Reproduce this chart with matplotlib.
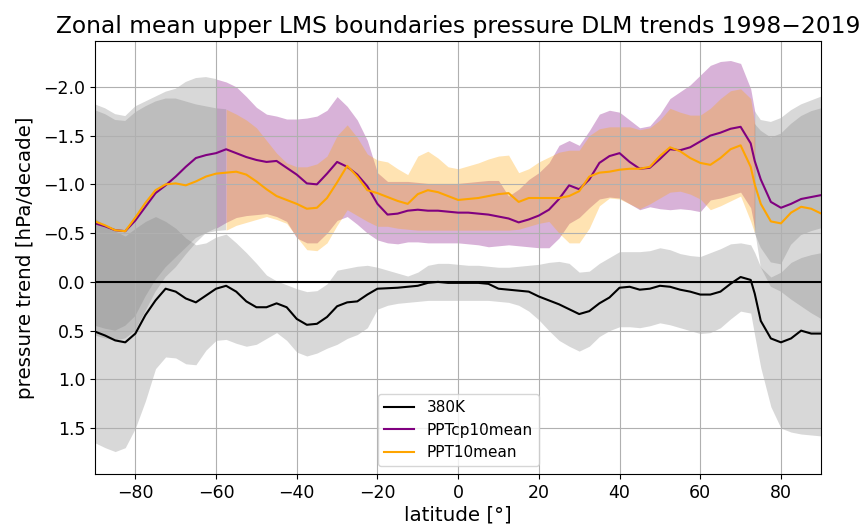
import numpy as np
import matplotlib
matplotlib.use('Agg')
import matplotlib.pyplot as plt

# latitude grid of the digitised zonal means
lat = np.r_[np.arange(-90, 73, 2.5), 73.5, np.arange(75, 90.1, 2.5)]

# 380K trend and its spread
trend_380k = [0.51, 0.55, 0.60, 0.62, 0.53, 0.34, 0.19, 0.07, 0.10, 0.17,
              0.21, 0.14, 0.07, 0.04, 0.10, 0.20, 0.26, 0.26, 0.22, 0.26,
              0.38, 0.44, 0.43, 0.36, 0.25, 0.21, 0.20, 0.13, 0.07, 0.065,
              0.06, 0.05, 0.04, 0.01, 0.00, 0.01, 0.01, 0.01, 0.01, 0.02,
              0.07, 0.08, 0.09, 0.10, 0.15, 0.19, 0.23, 0.28, 0.33, 0.30,
              0.22, 0.16, 0.06, 0.05, 0.08, 0.07, 0.04, 0.05, 0.08, 0.10,
              0.13, 0.13, 0.10, 0.02, -0.05, -0.02, 0.12, 0.40, 0.58, 0.62,
              0.58, 0.50, 0.53, 0.53]
low_380k = [1.65, 1.70, 1.74, 1.70, 1.50, 1.22, 0.89, 0.77, 0.78, 0.84,
            0.85, 0.70, 0.60, 0.59, 0.63, 0.66, 0.64, 0.58, 0.52, 0.60,
            0.72, 0.76, 0.73, 0.68, 0.64, 0.58, 0.54, 0.47, 0.28, 0.24,
            0.22, 0.21, 0.20, 0.19, 0.19, 0.19, 0.19, 0.19, 0.19, 0.19,
            0.20, 0.21, 0.24, 0.30, 0.39, 0.50, 0.60, 0.66, 0.71, 0.66,
            0.56, 0.50, 0.46, 0.46, 0.47, 0.45, 0.42, 0.44, 0.47, 0.50,
            0.53, 0.52, 0.47, 0.38, 0.30, 0.32, 0.55, 0.88, 1.28, 1.50,
            1.54, 1.56, 1.57, 1.58]
high_380k = [-0.65, -0.58, -0.52, -0.47, -0.55, -0.62, -0.67, -0.62, -0.55, -0.45,
             -0.38, -0.40, -0.46, -0.49, -0.40, -0.30, -0.19, -0.07, -0.01, 0.03,
             0.07, 0.10, 0.09, 0.02, -0.12, -0.14, -0.16, -0.17, -0.15, -0.12,
             -0.09, -0.06, -0.10, -0.17, -0.19, -0.19, -0.18, -0.17, -0.17, -0.16,
             -0.15, -0.15, -0.16, -0.17, -0.18, -0.20, -0.21, -0.19, -0.10, -0.11,
             -0.19, -0.25, -0.31, -0.31, -0.31, -0.32, -0.35, -0.33, -0.29, -0.27,
             -0.26, -0.30, -0.34, -0.39, -0.40, -0.38, -0.30, -0.15, -0.05, -0.10,
             -0.20, -0.25, -0.28, -0.30]

# PPTcp10mean
trend_cp = [-0.60, -0.57, -0.53, -0.52, -0.63, -0.77, -0.91, -0.99, -1.08, -1.18,
            -1.27, -1.30, -1.32, -1.36, -1.32, -1.28, -1.25, -1.23, -1.24, -1.17,
            -1.10, -1.01, -1.00, -1.11, -1.23, -1.18, -1.10, -0.98, -0.80, -0.69,
            -0.70, -0.73, -0.74, -0.73, -0.73, -0.72, -0.71, -0.71, -0.70, -0.69,
            -0.67, -0.65, -0.61, -0.64, -0.68, -0.74, -0.85, -0.99, -0.95, -1.05,
            -1.22, -1.29, -1.32, -1.23, -1.16, -1.17, -1.26, -1.36, -1.35, -1.38,
            -1.44, -1.50, -1.53, -1.57, -1.59, -1.42, -1.24, -1.05, -0.82, -0.76,
            -0.80, -0.85, -0.87, -0.89]
high_cp = [-1.82, -1.78, -1.72, -1.70, -1.80, -1.85, -1.90, -1.95, -1.98, -2.05,
           -2.09, -2.10, -2.08, -2.05, -2.00, -1.90, -1.79, -1.72, -1.70, -1.67,
           -1.67, -1.68, -1.70, -1.76, -1.90, -1.80, -1.66, -1.45, -1.12, -1.03,
           -1.03, -1.03, -1.02, -1.01, -1.01, -1.01, -1.01, -1.02, -1.03, -1.04,
           -1.04, -0.88, -0.95, -1.05, -1.12, -1.22, -1.40, -1.45, -1.40, -1.55,
           -1.72, -1.76, -1.74, -1.66, -1.58, -1.60, -1.72, -1.88, -1.95, -2.02,
           -2.12, -2.22, -2.26, -2.27, -2.24, -1.98, -1.75, -1.66, -1.64, -1.68,
           -1.76, -1.82, -1.86, -1.90]
low_cp = [0.55, 0.58, 0.60, 0.58, 0.50, 0.30, 0.10, -0.05, -0.15, -0.28,
          -0.40, -0.50, -0.55, -0.61, -0.66, -0.68, -0.69, -0.70, -0.67, -0.62,
          -0.45, -0.40, -0.40, -0.50, -0.63, -0.67, -0.59, -0.50, -0.43, -0.40,
          -0.39, -0.41, -0.41, -0.40, -0.40, -0.40, -0.40, -0.39, -0.38, -0.36,
          -0.37, -0.38, -0.37, -0.36, -0.35, -0.35, -0.45, -0.60, -0.66, -0.76,
          -0.85, -0.87, -0.86, -0.80, -0.74, -0.77, -0.75, -0.74, -0.75, -0.74,
          -0.72, -0.84, -0.86, -0.89, -0.92, -0.76, -0.55, -0.15, 0.05, 0.10,
          0.18, 0.25, 0.32, 0.38]

# PPT10mean
trend_ppt = [-0.62, -0.58, -0.53, -0.52, -0.66, -0.81, -0.94, -1.00, -1.01, -0.99,
             -1.03, -1.08, -1.11, -1.12, -1.13, -1.10, -1.03, -0.95, -0.88, -0.84,
             -0.80, -0.75, -0.76, -0.86, -1.02, -1.19, -1.08, -0.94, -0.91, -0.87,
             -0.83, -0.80, -0.90, -0.94, -0.92, -0.88, -0.84, -0.85, -0.86, -0.88,
             -0.90, -0.91, -0.82, -0.86, -0.86, -0.86, -0.86, -0.88, -0.93, -1.08,
             -1.12, -1.13, -1.15, -1.16, -1.16, -1.18, -1.29, -1.38, -1.34, -1.27,
             -1.22, -1.20, -1.27, -1.36, -1.40, -1.18, -1.00, -0.80, -0.62, -0.60,
             -0.71, -0.77, -0.75, -0.70]
high_ppt = [-1.76, -1.72, -1.66, -1.65, -1.74, -1.80, -1.85, -1.88, -1.88, -1.85,
            -1.82, -1.80, -1.78, -1.77, -1.72, -1.66, -1.58, -1.45, -1.32, -1.22,
            -1.18, -1.18, -1.21, -1.29, -1.50, -1.61, -1.48, -1.31, -1.25, -1.23,
            -1.16, -1.10, -1.29, -1.34, -1.27, -1.18, -1.16, -1.19, -1.22, -1.26,
            -1.29, -1.30, -1.12, -1.16, -1.23, -1.28, -1.33, -1.35, -1.35, -1.50,
            -1.57, -1.59, -1.59, -1.59, -1.56, -1.58, -1.66, -1.78, -1.74, -1.71,
            -1.71, -1.78, -1.88, -1.96, -1.98, -1.88, -1.62, -1.55, -1.48, -1.52,
            -1.62, -1.70, -1.75, -1.78]
low_ppt = [0.45, 0.48, 0.50, 0.45, 0.35, 0.15, -0.02, -0.15, -0.25, -0.35,
           -0.45, -0.50, -0.52, -0.53, -0.58, -0.61, -0.64, -0.67, -0.64, -0.60,
           -0.46, -0.33, -0.32, -0.40, -0.58, -0.74, -0.68, -0.62, -0.57, -0.57,
           -0.55, -0.54, -0.53, -0.53, -0.53, -0.53, -0.53, -0.53, -0.53, -0.53,
           -0.53, -0.53, -0.54, -0.57, -0.60, -0.62, -0.50, -0.40, -0.40, -0.55,
           -0.78, -0.86, -0.85, -0.80, -0.75, -0.80, -0.86, -0.92, -0.93, -0.90,
           -0.85, -0.74, -0.78, -0.83, -0.88, -0.62, -0.50, -0.35, -0.20, -0.18,
           -0.38, -0.48, -0.52, -0.55]

# polar parts of the tropopause bands are shown in grey
cp_mid = (lat >= -60) & (lat <= 73.5)
cp_pol = ~((lat > -60) & (lat < 73.5))
ppt_mid = (lat >= -57.5) & (lat <= 73.5)
ppt_pol = ~((lat > -57.5) & (lat < 73.5))

fig = plt.figure(figsize=(8.63, 5.25), dpi=100)
ax = fig.add_axes([95 / 863, 51 / 525, 726.3 / 863, 433 / 525])

ax.fill_between(lat, high_380k, low_380k, color='grey', alpha=0.3, linewidth=0)
ax.fill_between(lat, high_cp, low_cp, where=cp_mid, color='purple', alpha=0.3, linewidth=0)
ax.fill_between(lat, high_cp, low_cp, where=cp_pol, color='grey', alpha=0.3, linewidth=0)
ax.fill_between(lat, high_ppt, low_ppt, where=ppt_mid, color='orange', alpha=0.3, linewidth=0)
ax.fill_between(lat, high_ppt, low_ppt, where=ppt_pol, color='grey', alpha=0.3, linewidth=0)

ax.axhline(0, color='k', linewidth=1.5)
ax.plot(lat, trend_380k, color='k', linewidth=1.5, label='380K')
ax.plot(lat, trend_cp, color='purple', linewidth=1.5, label='PPTcp10mean')
ax.plot(lat, trend_ppt, color='orange', linewidth=1.5, label='PPT10mean')

ax.set_xlim(-90, 90)
ax.set_ylim(1.97, -2.47)
ax.set_yticks([-2.0, -1.5, -1.0, -0.5, 0.0, 0.5, 1.0, 1.5])
ax.grid(True)
ax.tick_params(labelsize=12.5)
ax.set_xlabel('latitude [°]', fontsize=14.3, labelpad=3)
ax.set_ylabel('pressure trend [hPa/decade]', fontsize=14.3, labelpad=6)
ax.set_title('Zonal mean upper LMS boundaries pressure DLM trends 1998\u22122019', fontsize=16.8)
ax.legend(loc='lower center', fontsize=11)

fig.savefig('out.png', dpi=100)
